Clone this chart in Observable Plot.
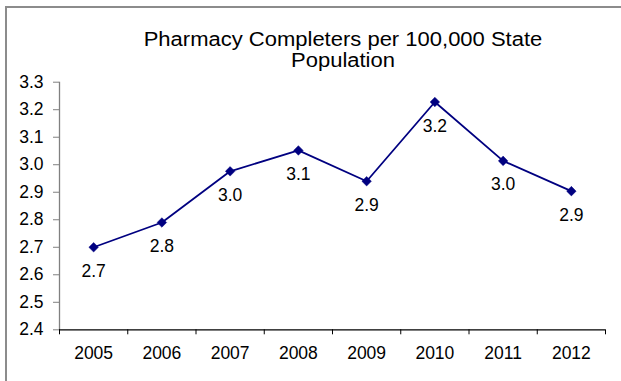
<!DOCTYPE html>
<html>
<head>
<meta charset="utf-8">
<script src="https://cdn.jsdelivr.net/npm/d3@7"></script>
<script src="https://cdn.jsdelivr.net/npm/@observablehq/plot@0.6"></script>
<style>
  html, body { margin: 0; padding: 0; background: #fff; }
  #wrap { position: relative; width: 621px; height: 381px; overflow: hidden; background: #fff;
          font-family: "Liberation Sans", Arial, sans-serif; }
  #border { position: absolute; left: 5px; top: 6px; width: 700px; height: 500px;
            border: 2px solid #8c8c8c; box-sizing: border-box; pointer-events: none; }
  #title { width: 686px; padding-top: 29px; height: 42px; font-size: 20px; line-height: 21px;
           text-align: center; color: #000; transform: scaleX(1.1); transform-origin: 343px 0; }
  #chart svg { display: block; }
</style>
</head>
<body>
<div id="wrap">
  <div id="border"></div>
  <div id="title">Pharmacy Completers per 100,000 State<br>Population</div>
  <div id="chart"></div>
</div>
<script>
const years = ["2005", "2006", "2007", "2008", "2009", "2010", "2011", "2012"];
const values = [2.70, 2.79, 2.976, 3.052, 2.94, 3.228, 3.014, 2.904];
const valueLabels = ["2.7", "2.8", "3.0", "3.1", "2.9", "3.2", "3.0", "2.9"];
const yTicks = [2.4, 2.5, 2.6, 2.7, 2.8, 2.9, 3.0, 3.1, 3.2, 3.3];

const data = years.map((year, i) => ({year, pos: i + 0.5, value: values[i], label: valueLabels[i]}));
const bounds = d3.range(years.length + 1);

const chart = Plot.plot({
  width: 621,
  height: 310,
  marginTop: 10.7,
  marginBottom: 51.7,
  marginLeft: 59,
  marginRight: 16,
  style: {fontFamily: "'Liberation Sans', Arial, sans-serif", fontSize: "17.5px", background: "transparent", color: "#000"},
  x: {domain: [0, years.length], axis: null, label: null},
  y: {domain: [yTicks[0], yTicks[yTicks.length - 1]], axis: null, label: null},
  marks: [
    Plot.axisY({ticks: yTicks, tickFormat: d3.format(".1f"), tickSize: 6, tickPadding: 10, stroke: "#808080", color: "#000", fontSize: 17.5, label: null}),
    Plot.ruleX([bounds[0]], {stroke: "#808080", strokeWidth: 1.3}),
    Plot.axisX({ticks: bounds, tickFormat: () => "", tickSize: 5, stroke: "#000", label: null}),
    Plot.axisX({ticks: data.map(d => d.pos), tickFormat: d => years[Math.floor(d)], tickSize: 0, tickPadding: 16.4, fontSize: 17.5, color: "#000", label: null}),
    Plot.ruleY([yTicks[0]], {stroke: "#000", strokeWidth: 1.2}),
    Plot.line(data, {x: "pos", y: "value", stroke: "#000080", strokeWidth: 1.8}),
    Plot.dot(data, {x: "pos", y: "value", symbol: "diamond2", r: 4.3, fill: "#000080", stroke: "#000080", strokeWidth: 0.5}),
    Plot.text(data, {x: "pos", y: "value", text: "label", dy: 24, fontSize: 17.5, fill: "#000"})
  ]
});
document.getElementById("chart").appendChild(chart);
</script>
</body>
</html>
